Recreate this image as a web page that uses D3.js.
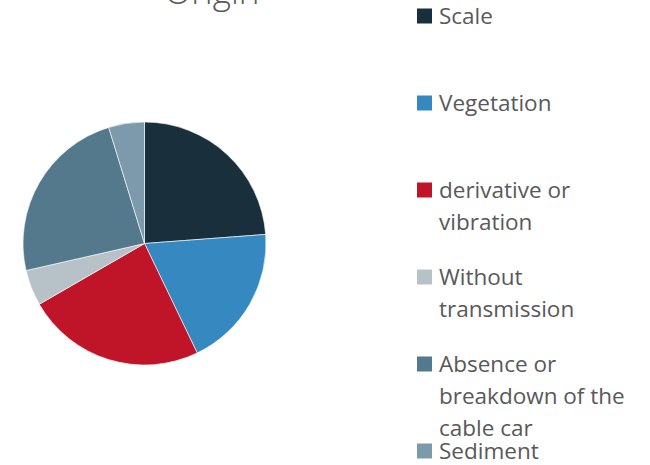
<!DOCTYPE html>
<html>
<head>
<meta charset="utf-8">
<script src="https://cdn.jsdelivr.net/npm/d3@7"></script>
<style>
  body { margin: 0; background: #fff; }
  text { font-family: "Open Sans", sans-serif; fill: #595959; }
</style>
</head>
<body>
<div id="chart"></div>
<script>
;(function () {

    // chart data
    var categories = ['Scale', 'Vegetation', 'derivative or vibration', 'Without transmission',
                      'Absence or breakdown of the cable car', 'Sediment'];
    var counts = [5, 4, 5, 1, 5, 1];
    var colors = ['#1a2f3c', '#3589c0', '#c01428', '#b6c2c7', '#54788c', '#7d9aac'];
    var title = 'Origin';

    var width = 650, height = 465;

    var svg = d3.select('#chart').append('svg')
        .attr('width', width)
        .attr('height', height);

    svg.append('text')
        .attr('x', 212)
        .attr('y', 4)
        .attr('text-anchor', 'middle')
        .style('font-size', '35px')
        .style('font-weight', 300)
        .text(title);

    // pie
    var data = categories.map(function (c, i) { return { name: c, value: counts[i], color: colors[i] }; });
    var pie = d3.pie().sort(null).value(function (d) { return d.value; });
    var arc = d3.arc().innerRadius(0).outerRadius(121.5);

    var g = svg.append('g').attr('transform', 'translate(144.5,243.5)');
    g.selectAll('path')
        .data(pie(data))
        .enter()
        .append('path')
        .attr('d', arc)
        .attr('fill', function (d) { return d.data.color; })
        .attr('stroke', '#fff')
        .attr('stroke-width', 0.6);

    // legend, wrapped by hand to the reference line breaks
    var lines = [['Scale'], ['Vegetation'], ['derivative or', 'vibration'], ['Without', 'transmission'],
                 ['Absence or', 'breakdown of the', 'cable car'], ['Sediment']];
    var legend = svg.append('g');
    var item = legend.selectAll('g')
        .data(data)
        .enter()
        .append('g')
        .attr('transform', function (d, i) { return 'translate(417,' + (16 + i * 87) + ')'; });

    item.append('rect')
        .attr('x', 0)
        .attr('y', -7.5)
        .attr('width', 15)
        .attr('height', 15)
        .attr('fill', function (d) { return d.color; });

    item.append('text')
        .attr('x', 22)
        .attr('y', 8)
        .style('font-size', '22.5px')
        .each(function (d, i) {
            var t = d3.select(this);
            lines[i].forEach(function (l, j) {
                t.append('tspan').attr('x', 22).attr('dy', j === 0 ? 0 : 32).text(l);
            });
        });

})();
</script>
</body>
</html>
